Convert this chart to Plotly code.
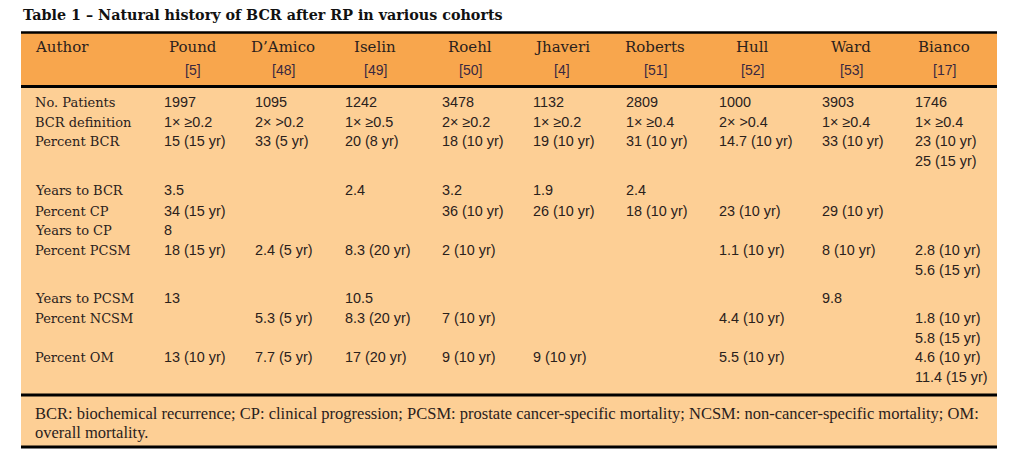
import plotly.graph_objects as go

# ---- data ----
title = "Table 1 – Natural history of BCR after RP in various cohorts"
authors = ["Pound", "D’Amico", "Iselin", "Roehl", "Jhaveri", "Roberts", "Hull", "Ward", "Bianco"]
refs = ["[5]", "[48]", "[49]", "[50]", "[4]", "[51]", "[52]", "[53]", "[17]"]
row_labels = ["No. Patients", "BCR definition", "Percent BCR", "Years to BCR", "Percent CP",
              "Years to CP", "Percent PCSM", "Years to PCSM", "Percent NCSM", "Percent OM"]
no_patients = ["1997", "1095", "1242", "3478", "1132", "2809", "1000", "3903", "1746"]
bcr_definition = ["1× ≥0.2", "2× >0.2", "1× ≥0.5", "2× ≥0.2", "1× ≥0.2", "1× ≥0.4", "2× >0.4", "1× ≥0.4", "1× ≥0.4"]
percent_bcr = ["15 (15 yr)", "33 (5 yr)", "20 (8 yr)", "18 (10 yr)", "19 (10 yr)", "31 (10 yr)",
               "14.7 (10 yr)", "33 (10 yr)", "23 (10 yr)\n25 (15 yr)"]
years_to_bcr = ["3.5", "", "2.4", "3.2", "1.9", "2.4", "", "", ""]
percent_cp = ["34 (15 yr)", "", "", "36 (10 yr)", "26 (10 yr)", "18 (10 yr)", "23 (10 yr)", "29 (10 yr)", ""]
years_to_cp = ["8", "", "", "", "", "", "", "", ""]
percent_pcsm = ["18 (15 yr)", "2.4 (5 yr)", "8.3 (20 yr)", "2 (10 yr)", "", "", "1.1 (10 yr)", "8 (10 yr)",
                "2.8 (10 yr)\n5.6 (15 yr)"]
years_to_pcsm = ["13", "", "10.5", "", "", "", "", "9.8", ""]
percent_ncsm = ["", "5.3 (5 yr)", "8.3 (20 yr)", "7 (10 yr)", "", "", "4.4 (10 yr)", "",
                "1.8 (10 yr)\n5.8 (15 yr)"]
percent_om = ["13 (10 yr)", "7.7 (5 yr)", "17 (20 yr)", "9 (10 yr)", "9 (10 yr)", "", "5.5 (10 yr)", "",
              "4.6 (10 yr)\n11.4 (15 yr)"]
footnote_lines = [
    "BCR: biochemical recurrence; CP: clinical progression; PCSM: prostate cancer-specific mortality; NCSM: non-cancer-specific mortality; OM:",
    "overall mortality.",
]
rows = [no_patients, bcr_definition, percent_bcr, years_to_bcr, percent_cp,
        years_to_cp, percent_pcsm, years_to_pcsm, percent_ncsm, percent_om]

# ---- layout (page pixels; page body has an 8px margin) ----
W, H = 1024, 471
OFF = 8
L, R = 21, 997
header_centers = [193, 283, 375, 470, 562, 655, 752, 851, 944]
value_x = [162, 253, 343, 440, 531, 624, 717, 820, 913]
label_x = 33
row_y = [102, 122, 141, 190, 211, 230, 250, 298, 318, 357]
line_h = 19.8

HEADER_BG = "#F8A64D"
BODY_BG = "#FDCF95"
TXT = "#2a211c"
REF = "#3a2840"
SERIF = "DejaVu Serif"
SANS = "Liberation Sans"

fig = go.Figure()
shapes = []
def rect(y0, y1, color):
    shapes.append(dict(type="rect", xref="x", yref="y", x0=L, x1=R, y0=y0, y1=y1,
                       fillcolor=color, line=dict(width=0), layer="below"))
def hline(y, w):
    shapes.append(dict(type="line", xref="x", yref="y", x0=L, x1=R, y0=y, y1=y,
                       line=dict(color="#000000", width=w)))

rect(32, 87, HEADER_BG)
rect(87, 395, BODY_BG)
rect(395, 447, BODY_BG)
hline(32.5, 2.5)
hline(86.5, 3)
hline(395, 3)
hline(447, 3)

ann = []
def txt(x, y, s, size, family, color=TXT, xanchor="left", bold=False):
    if bold:
        s = "<b>" + s + "</b>"
    ann.append(dict(x=x, y=y, xref="x", yref="y", text=s, showarrow=False,
                    xanchor=xanchor, yanchor="middle",
                    font=dict(size=size, family=family, color=color)))

txt(L, 15, title, 14.3, SERIF, color="#111111", bold=True)
txt(label_x, 47, "Author", 15, SERIF)
for cx, a, r in zip(header_centers, authors, refs):
    txt(cx, 47, a, 15, SERIF, xanchor="center")
    txt(cx, 70, r, 14, SANS, color=REF, xanchor="center")

for lab, y, vals in zip(row_labels, row_y, rows):
    txt(label_x, y, lab, 13, SERIF)
    for x, v in zip(value_x, vals):
        for k, part in enumerate(v.split("\n")):
            if part:
                txt(x, y + k * line_h, part, 14.4, SANS)

for k, fl in enumerate(footnote_lines):
    txt(label_x, 413 + k * 19, fl, 16.5, "Liberation Sans Narrow")

fig.update_layout(
    width=W, height=H, margin=dict(l=0, r=0, t=0, b=0),
    paper_bgcolor="white", plot_bgcolor="white",
    xaxis=dict(range=[OFF, W + OFF], visible=False, fixedrange=True),
    yaxis=dict(range=[H + OFF, OFF], visible=False, fixedrange=True),
    shapes=shapes, annotations=ann, showlegend=False,
)
fig.write_html("out.html")
